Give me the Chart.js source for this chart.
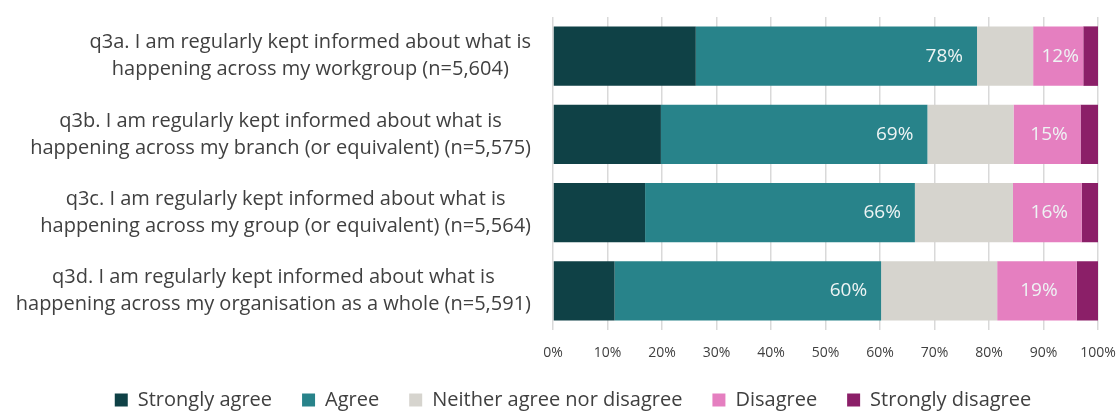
<!DOCTYPE html>
<html>
<head>
<meta charset="utf-8">
<script src="https://cdn.jsdelivr.net/npm/chart.js@4/dist/chart.umd.min.js"></script>
<style>
  html, body { margin: 0; padding: 0; background: #fff; }
  #wrap { width: 1118px; height: 411px; position: relative; }
</style>
</head>
<body>
<div id="wrap"><canvas id="myChart"></canvas></div>
<script>
'use strict';

var questions = [
    ["q3a. I am regularly kept informed about what is", "happening across my workgroup (n=5,604)"],
    ["q3b. I am regularly kept informed about what is", "happening across my branch (or equivalent) (n=5,575)"],
    ["q3c. I am regularly kept informed about what is", "happening across my group (or equivalent) (n=5,564)"],
    ["q3d. I am regularly kept informed about what is", "happening across my organisation as a whole (n=5,591)"]
];

var stronglyAgree    = [26.2, 19.8, 16.9, 11.3];
var agree            = [51.6, 48.9, 49.5, 48.9];
var neither          = [10.3, 15.8, 18.0, 21.3];
var disagree         = [ 9.2, 12.3, 12.6, 14.6];
var stronglyDisagree = [ 2.7,  3.2,  3.0,  3.9];

var agreeTotals    = [78, 69, 66, 60];
var disagreeTotals = [12, 15, 16, 19];

var xTicks = [0, 10, 20, 30, 40, 50, 60, 70, 80, 90, 100];

var FONT = "'Open Sans', 'Noto Sans', sans-serif";

// draw question labels: each block centred on itself, blocks right-aligned
var questionLabels = {
    id: 'questionLabels',
    afterDraw: function(chart) {
        var ctx = chart.ctx;
        var y = chart.scales.y;
        var right = chart.chartArea.left - 22;
        var lineH = 27;
        ctx.save();
        ctx.font = '20px ' + FONT;
        ctx.fillStyle = '#404040';
        ctx.textAlign = 'center';
        ctx.textBaseline = 'middle';
        questions.forEach(function(lines, i) {
            var maxW = 0;
            lines.forEach(function(l) { maxW = Math.max(maxW, ctx.measureText(l).width); });
            var cx = right - maxW / 2;
            var cy = y.getPixelForValue(i);
            lines.forEach(function(l, j) {
                ctx.fillText(l, cx, cy + (j - (lines.length - 1) / 2) * lineH);
            });
        });
        ctx.restore();
    }
};

// the "agree" total at the end of the Agree bar, "disagree" total in the Disagree bar
var totalLabels = {
    id: 'totalLabels',
    afterDatasetsDraw: function(chart) {
        var ctx = chart.ctx;
        var agreeMeta = chart.getDatasetMeta(1);
        var disMeta = chart.getDatasetMeta(3);
        ctx.save();
        ctx.font = '19px ' + FONT;
        ctx.fillStyle = '#eef4f4';
        ctx.textBaseline = 'middle';
        agreeMeta.data.forEach(function(bar, i) {
            ctx.textAlign = 'right';
            ctx.fillText(agreeTotals[i] + '%', bar.x - 14, bar.y);
        });
        disMeta.data.forEach(function(bar, i) {
            var p = bar.getProps(['x', 'base', 'y']);
            ctx.textAlign = 'center';
            ctx.fillText(disagreeTotals[i] + '%', (p.x + p.base) / 2 + 2, p.y);
        });
        ctx.restore();
    }
};

// legend in the reference sits a little right of centre
var legendShift = {
    id: 'legendShift',
    afterLayout: function(chart) {
        chart.legend.left += 14;
        chart.legend.right += 14;
    }
};

var series = [
    { label: 'Strongly agree', data: stronglyAgree, color: '#0f4146' },
    { label: 'Agree', data: agree, color: '#28838a' },
    { label: 'Neither agree nor disagree', data: neither, color: '#d6d4ce' },
    { label: 'Disagree', data: disagree, color: '#e57fc0' },
    { label: 'Strongly disagree', data: stronglyDisagree, color: '#8b1f68' }
];

var ctx = document.getElementById('myChart').getContext('2d');
var myChart = new Chart(ctx, {
    type: 'bar',
    data: {
        labels: questions,
        datasets: series.map(function(s) {
            return {
                label: s.label,
                data: s.data,
                backgroundColor: s.color,
                borderWidth: 0,
                categoryPercentage: 1,
                barPercentage: 0.76
            };
        })
    },
    options: {
        indexAxis: 'y',
        responsive: true,
        maintainAspectRatio: false,
        animation: false,
        layout: { padding: { top: 17, right: 0, bottom: -9, left: 0 } },
        scales: {
            x: {
                stacked: true,
                min: 0,
                max: 100,
                afterBuildTicks: function(scale) {
                    scale.ticks = xTicks.map(function(v) { return { value: v }; });
                },
                afterFit: function(scale) {
                    scale.height = 30;
                    scale.paddingRight = 20;
                },
                grid: { color: '#d9d9d9', lineWidth: 1.5, drawTicks: false },
                border: { display: false },
                ticks: {
                    padding: 15,
                    color: '#404040',
                    font: { family: FONT, size: 14 },
                    callback: function(v) { return v + '%'; }
                }
            },
            y: {
                stacked: true,
                grid: { display: false },
                border: { display: false },
                ticks: { display: false },
                afterFit: function(scale) { scale.width = 553; }
            }
        },
        plugins: {
            legend: {
                position: 'bottom',
                labels: {
                    boxWidth: 13,
                    boxHeight: 13,
                    padding: 30,
                    color: '#404040',
                    font: { family: FONT, size: 20 }
                }
            },
            tooltip: { enabled: false }
        }
    },
    plugins: [questionLabels, totalLabels, legendShift]
});
</script>
</body>
</html>
